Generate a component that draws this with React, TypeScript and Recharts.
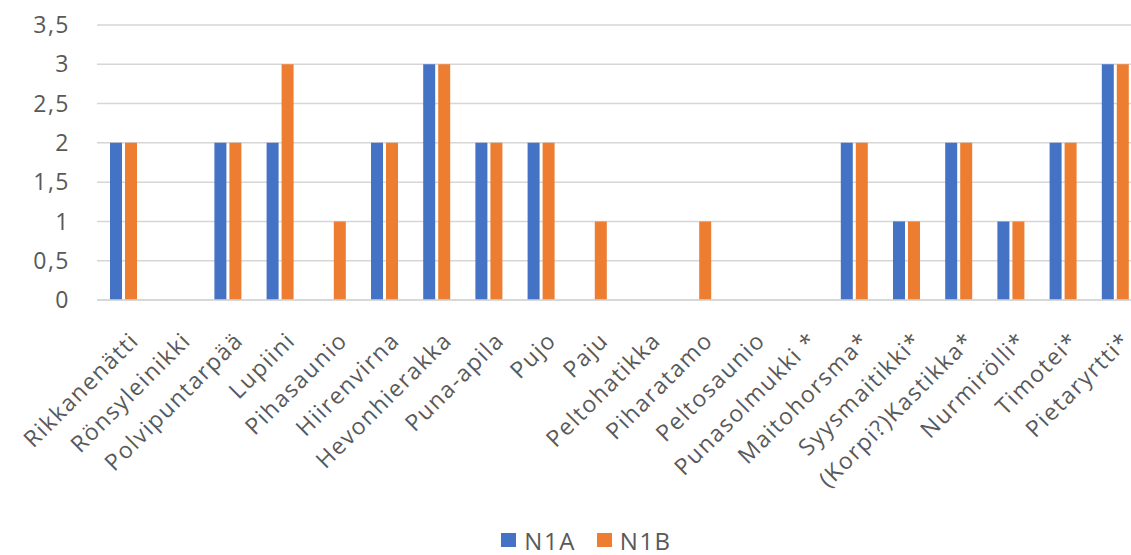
import React from "react";
import {
  BarChart,
  Bar,
  XAxis,
  YAxis,
  CartesianGrid,
  Legend,
} from "recharts";

// Species observed per plot (N1A / N1B); blank cells mean the species was not recorded
const species: string[] = [
  "Rikkanenätti",
  "Rönsyleinikki",
  "Polvipuntarpää",
  "Lupiini",
  "Pihasaunio",
  "Hiirenvirna",
  "Hevonhierakka",
  "Puna-apila",
  "Pujo",
  "Paju",
  "Peltohatikka",
  "Piharatamo",
  "Peltosaunio",
  "Punasolmukki *",
  "Maitohorsma*",
  "Syysmaitikki*",
  "(Korpi?)Kastikka*",
  "Nurmirölli*",
  "Timotei*",
  "Pietaryrtti*",
];

const n1a: (number | null)[] = [2, null, 2, 2, null, 2, 3, 2, 2, null, null, null, null, null, 2, 1, 2, 1, 2, 3];
const n1b: (number | null)[] = [2, null, 2, 3, 1, 2, 3, 2, 2, 1, null, 1, null, null, 2, 1, 2, 1, 2, 3];

const yTicks: number[] = [0, 0.5, 1, 1.5, 2, 2.5, 3, 3.5];

const FONT = '"Open Sans", "DejaVu Sans", sans-serif';
const TEXT = "#595959";
const GRID = "#d6d6d6";
const BLUE = "#4472C4";
const ORANGE = "#ED7D31";
const SPACING = 1.5;

const data = species.map((name, i) => ({ name, N1A: n1a[i], N1B: n1b[i] }));

const CHART_W = 1150;
const CHART_H = 555;

// Rotated category label, anchored at its end just below the axis
const CategoryTick = (props: any) => {
  const { x, y, payload } = props;
  const px = x + 17;
  const py = y + 42;
  return (
    <text
      x={px}
      y={py}
      textAnchor="end"
      transform={`rotate(-45 ${px} ${py})`}
      fill={TEXT}
      fontSize={23}
      fontFamily={FONT}
      letterSpacing={SPACING}
    >
      {payload.value}
    </text>
  );
};

const LegendContent = (props: any) => {
  const items = props.payload || [];
  return (
    <div
      style={{
        height: 30,
        display: "flex",
        alignItems: "center",
        justifyContent: "center",
        paddingLeft: 23,
        boxSizing: "border-box",
        fontFamily: FONT,
        fontSize: 24,
        letterSpacing: SPACING,
        color: TEXT,
      }}
    >
      {items.map((it: any) => (
        <span
          key={it.value}
          style={{ display: "flex", alignItems: "center", margin: "0 10.5px" }}
        >
          <span
            style={{
              display: "inline-block",
              width: 15,
              height: 14,
              background: it.color,
              marginRight: 8,
            }}
          />
          {it.value}
        </span>
      ))}
    </div>
  );
};

export default function App() {
  return (
    <div
      style={{
        position: "absolute",
        left: 0,
        top: 0,
        width: 1131,
        height: 555,
        overflow: "hidden",
        background: "#ffffff",
      }}
    >
      <BarChart
        width={CHART_W}
        height={CHART_H}
        data={data}
        margin={{ top: 25, right: 9, bottom: 0, left: 0 }}
        barSize={12}
        barGap={3}
      >
        <CartesianGrid vertical={false} stroke={GRID} strokeWidth={1.5} />
        <XAxis
          dataKey="name"
          interval={0}
          height={225}
          tickSize={0}
          tickMargin={0}
          tickLine={false}
          axisLine={{ stroke: GRID, strokeWidth: 1.5 }}
          tick={<CategoryTick />}
        />
        <YAxis
          width={97}
          domain={[0, 3.5]}
          ticks={yTicks}
          tickSize={0}
          tickMargin={27}
          axisLine={false}
          tickLine={false}
          tick={{ fill: TEXT, fontSize: 23, fontFamily: FONT, letterSpacing: SPACING }}
          tickFormatter={(v: number) => String(v).replace(".", ",")}
        />
        <Legend
          verticalAlign="bottom"
          wrapperStyle={{ left: 0, width: CHART_W }}
          content={<LegendContent />}
        />
        <Bar dataKey="N1A" name="N1A" fill={BLUE} isAnimationActive={false} />
        <Bar dataKey="N1B" name="N1B" fill={ORANGE} isAnimationActive={false} />
      </BarChart>
    </div>
  );
}
